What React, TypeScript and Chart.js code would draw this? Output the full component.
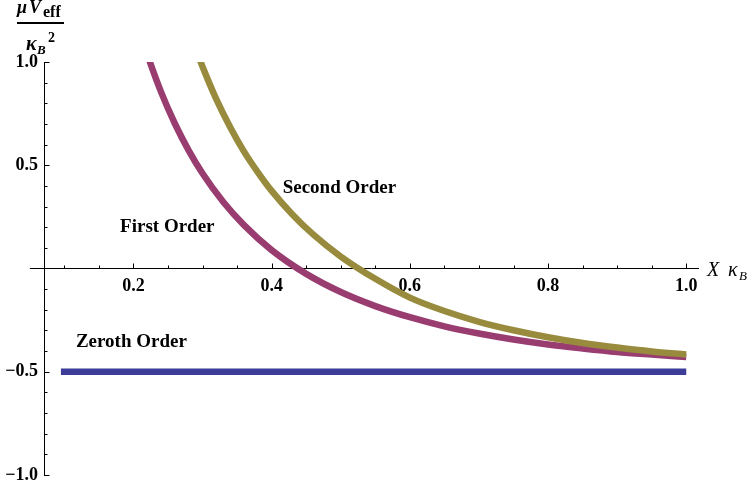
import { useEffect, useRef } from "react";
import { Chart, registerables } from "chart.js";

Chart.register(...registerables);

// ---- data ----
const zerothX = [0.095, 1.0];
const zerothY = [-0.5, -0.5];

const firstX = [0.212, 0.221, 0.24, 0.26, 0.28, 0.3, 0.33, 0.36, 0.4, 0.45, 0.5, 0.55, 0.6, 0.65, 0.7, 0.75, 0.8, 0.85, 0.9, 0.95, 1.0];
const firstY = [1.12, 1.027, 0.854, 0.701, 0.571, 0.46, 0.322, 0.21, 0.089, -0.026, -0.114, -0.182, -0.236, -0.28, -0.315, -0.344, -0.368, -0.387, -0.404, -0.417, -0.429];

const secondX = [0.288, 0.3, 0.32, 0.34, 0.36, 0.38, 0.4, 0.43, 0.46, 0.5, 0.55, 0.6, 0.65, 0.7, 0.75, 0.8, 0.85, 0.9, 0.95, 1.0];
const secondY = [1.083, 0.977, 0.819, 0.684, 0.566, 0.466, 0.376, 0.262, 0.165, 0.058, -0.05, -0.141, -0.206, -0.258, -0.299, -0.333, -0.361, -0.383, -0.402, -0.417];

const xMajorValues = [0.2, 0.4, 0.6, 0.8, 1.0];
const xTickLabels = ["0.2", "0.4", "0.6", "0.8", "1.0"];
const yMajorValues = [-1.0, -0.5, 0.5, 1.0];
const yTickLabels = ["\u22121.0", "\u22120.5", "0.5", "1.0"];

const curveLabels = ["Zeroth Order", "First Order", "Second Order"];
const curveLabelX = [0.197, 0.249, 0.498];
const curveLabelY = [-0.38, 0.177, 0.366];

const colors = ["#3d3d99", "#993d71", "#998b3d"];

const FONT = '"Liberation Serif", "Times New Roman", serif';

function pts(xs: number[], ys: number[]) {
  return xs.map((x, i) => ({ x, y: ys[i] }));
}

function isMajor(list: number[], v: number) {
  return list.some((m) => Math.abs(m - v) < 1e-6);
}

const mathAxes = {
  id: "mathAxes",
  afterDraw(chart: any) {
    const { ctx, scales } = chart;
    const xs = scales.x;
    const ys = scales.y;
    const area = chart.chartArea;
    const y0 = Math.floor(ys.getPixelForValue(0)) + 0.5;
    const xAxis = Math.floor(area.left) + 0.5;
    ctx.save();
    ctx.strokeStyle = "#000";
    ctx.lineWidth = 1;
    ctx.beginPath();
    // x axis extends a little left of the y axis
    ctx.moveTo(xs.getPixelForValue(0.05), y0);
    ctx.lineTo(area.left, y0);
    // x ticks (inward, upward)
    for (const t of xs.ticks) {
      const px = Math.round(xs.getPixelForValue(t.value)) + 0.5;
      const len = isMajor(xMajorValues, t.value) ? 5 : 3;
      ctx.moveTo(px, y0);
      ctx.lineTo(px, y0 - len);
    }
    // y ticks (inward, rightward)
    for (const t of ys.ticks) {
      if (Math.abs(t.value) < 1e-6) continue;
      const py = Math.round(ys.getPixelForValue(t.value)) + 0.5;
      const len = isMajor(yMajorValues, t.value) ? 5 : 3;
      ctx.moveTo(xAxis, py);
      ctx.lineTo(xAxis + len, py);
    }
    ctx.stroke();

    // curve labels
    ctx.fillStyle = "#000";
    ctx.textAlign = "center";
    ctx.textBaseline = "alphabetic";
    ctx.font = `bold 19px ${FONT}`;
    curveLabels.forEach((s, i) => {
      ctx.fillText(s, xs.getPixelForValue(curveLabelX[i]), ys.getPixelForValue(curveLabelY[i]));
    });

    // x axis title: X κ_B
    ctx.textAlign = "left";
    const xt = area.right + 9;
    ctx.font = `italic 20px ${FONT}`;
    ctx.fillText("X", xt, y0 + 7);
    ctx.fillText("\u03BA", xt + 21, y0 + 7);
    ctx.font = `italic 13px ${FONT}`;
    ctx.fillText("B", xt + 32, y0 + 11);

    // y axis title: μ V_eff / κ_B^2
    ctx.font = `bold italic 18px ${FONT}`;
    ctx.fillText("\u03BC", 17, 13);
    ctx.fillText("V", 29, 13);
    ctx.font = `bold 16px ${FONT}`;
    ctx.fillText("eff", 43, 17);
    ctx.fillRect(17, 22, 47, 2);
    ctx.font = `bold italic 20px ${FONT}`;
    ctx.fillText("\u03BA", 26, 50);
    ctx.font = `bold italic 13px ${FONT}`;
    ctx.fillText("B", 37, 54);
    ctx.font = `bold 14px ${FONT}`;
    ctx.fillText("2", 48, 42);
    ctx.restore();
  },
};

export default function App() {
  const ref = useRef<HTMLCanvasElement | null>(null);
  useEffect(() => {
    if (!ref.current) return;
    const common = {
      borderWidth: 6.5,
      pointRadius: 0,
      fill: false,
      clip: 0,
      cubicInterpolationMode: "monotone" as const,
    };
    const chart = new Chart(ref.current, {
      type: "line",
      data: {
        datasets: [
          { ...common, label: curveLabels[2], data: pts(secondX, secondY), borderColor: colors[2], order: 0 },
          { ...common, label: curveLabels[1], data: pts(firstX, firstY), borderColor: colors[1], order: 1 },
          { ...common, label: curveLabels[0], data: pts(zerothX, zerothY), borderColor: colors[0], order: 2 },
        ],
      },
      options: {
        responsive: false,
        animation: false,
        devicePixelRatio: 1,
        events: [],
        layout: { padding: { left: 0, top: 62, right: 52, bottom: 13 } },
        plugins: { legend: { display: false }, tooltip: { enabled: false } },
        scales: {
          x: {
            type: "linear",
            position: { y: 0 } as any,
            min: 0.0705,
            max: 1.017,
            afterFit: (s: any) => {
              s.height = 0;
              s.paddingLeft = 0;
              s.paddingRight = 0;
              s.paddingTop = 0;
              s.paddingBottom = 0;
            },
            grid: { display: true, drawOnChartArea: false, drawTicks: false },
            border: { display: true, color: "#000", width: 1 },
            ticks: {
              stepSize: 0.05,
              autoSkip: false,
              includeBounds: false,
              maxRotation: 0,
              minRotation: 0,
              padding: 7,
              color: "#000",
              font: { family: FONT, size: 18, weight: "bold" },
              callback: (v: any) => {
                const i = xMajorValues.findIndex((m) => Math.abs(m - Number(v)) < 1e-6);
                return i >= 0 ? xTickLabels[i] : "";
              },
            },
          },
          y: {
            type: "linear",
            position: "left",
            min: -1,
            max: 1,
            afterFit: (s: any) => {
              s.width = 44;
              s.paddingTop = 0;
              s.paddingBottom = 0;
              s.paddingLeft = 0;
              s.paddingRight = 0;
            },
            grid: { display: true, drawOnChartArea: false, drawTicks: false },
            border: { display: true, color: "#000", width: 1 },
            ticks: {
              stepSize: 0.1,
              autoSkip: false,
              includeBounds: false,
              padding: 6,
              color: "#000",
              font: { family: FONT, size: 18, weight: "bold" },
              callback: (v: any) => {
                const i = yMajorValues.findIndex((m) => Math.abs(m - Number(v)) < 1e-6);
                return i >= 0 ? yTickLabels[i] : "";
              },
            },
          },
        },
      },
      plugins: [mathAxes],
    });
    return () => chart.destroy();
  }, []);
  return (
    <div style={{ position: "fixed", left: 0, top: 0, width: 750, height: 488, background: "#fff" }}>
      <canvas ref={ref} width={750} height={488} style={{ display: "block", width: 750, height: 488 }} />
    </div>
  );
}
